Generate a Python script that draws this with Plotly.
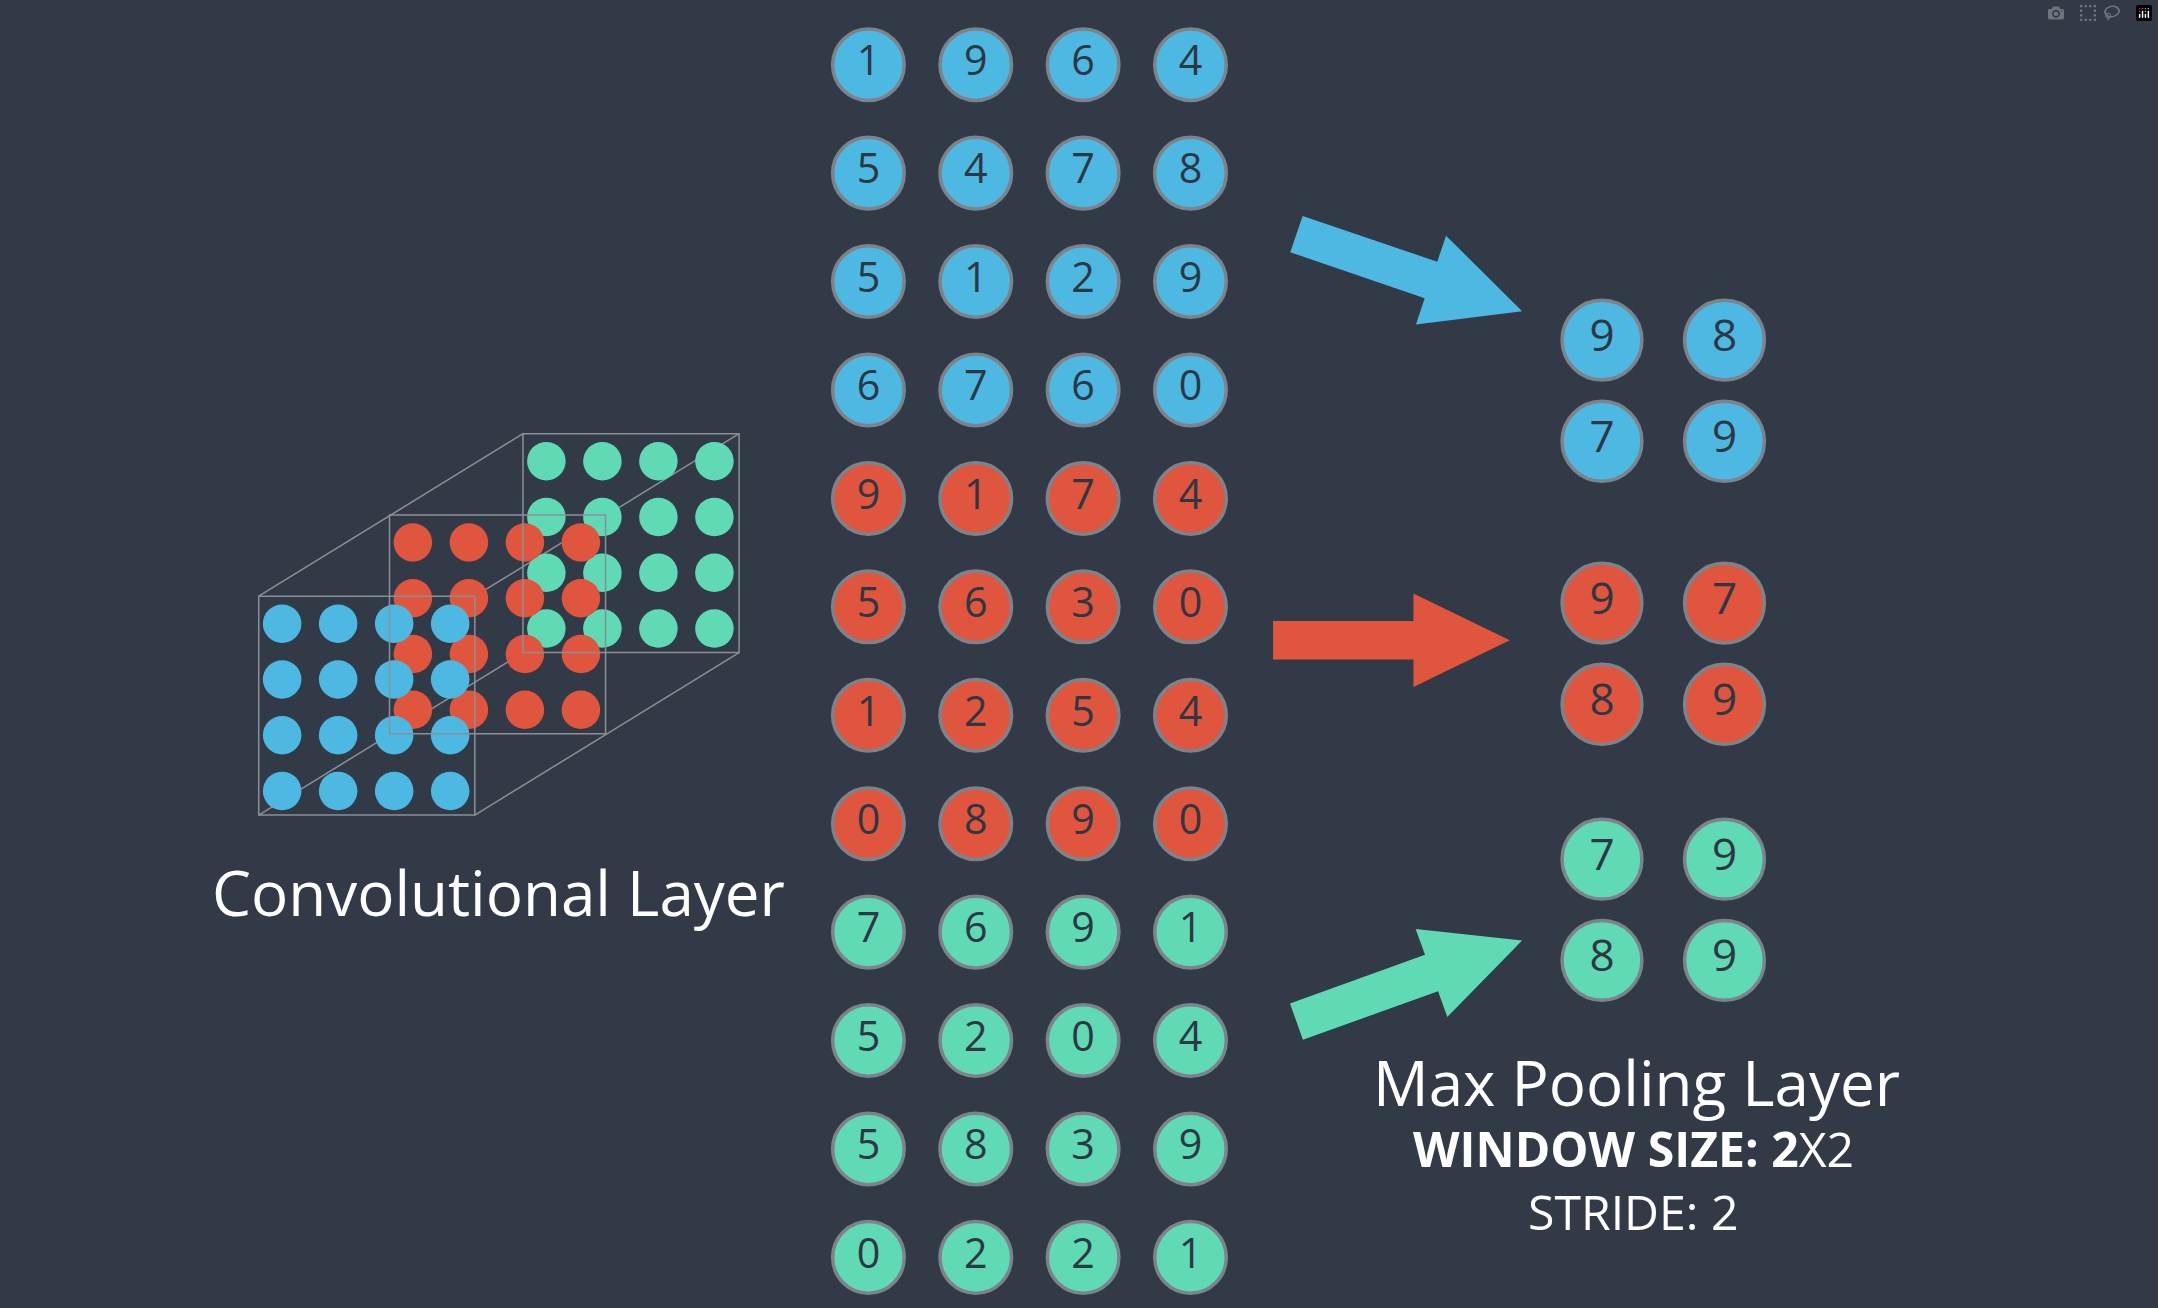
import math
import plotly.graph_objects as go

# picture coordinates are in 1568x950 reference units, scaled on the page
S = 2158 / 1568

BG = '#323a47'
BLUE = '#4db9e2'
RED = '#e0553e'
GREEN = '#5fdab5'
RING = '#7d838a'
DIGIT = '#2e3744'

# feature maps (4 columns x 4 rows each)
blue_map = [[1, 9, 6, 4], [5, 4, 7, 8], [5, 1, 2, 9], [6, 7, 6, 0]]
red_map = [[9, 1, 7, 4], [5, 6, 3, 0], [1, 2, 5, 4], [0, 8, 9, 0]]
green_map = [[7, 6, 9, 1], [5, 2, 0, 4], [5, 8, 3, 9], [0, 2, 2, 1]]

# pooled outputs (2x2 each)
blue_pool = [[9, 8], [7, 9]]
red_pool = [[9, 7], [8, 9]]
green_pool = [[7, 9], [8, 9]]

fig = go.Figure()

# ---- left cube of dots ----
cube_layers = [(GREEN, 192, -118), (RED, 95, -59), (BLUE, 0, 0)]
bx0, by0, bx1, by1 = 188, 433, 345, 592
line_style = dict(color='#8a9096', width=1.5)
for cx, cy in [(bx0, by0), (bx1, by0), (bx1, by1), (bx0, by1)]:
    fig.add_shape(type='line', x0=cx, y0=cy, x1=cx + 192, y1=cy - 118, line=line_style, layer='below')
for color, dx, dy in cube_layers:
    xs, ys = [], []
    for r in range(4):
        for c in range(4):
            xs.append(205 + dx + c * 40.7)
            ys.append(453 + dy + r * 40.5)
    fig.add_trace(go.Scatter(x=xs, y=ys, mode='markers',
                             marker=dict(size=28 * S, color=color, line=dict(width=0)),
                             hoverinfo='skip'))
    fig.add_shape(type='rect', x0=bx0 + dx, y0=by0 + dy, x1=bx1 + dx, y1=by1 + dy,
                  line=line_style, layer='above')

# ---- middle column of numbers ----
col_x = [631, 709, 787, 865]
for k, (mp, color) in enumerate([(blue_map, BLUE), (red_map, RED), (green_map, GREEN)]):
    xs, ys, txt = [], [], []
    for r, row in enumerate(mp):
        for c, v in enumerate(row):
            xs.append(col_x[c])
            ys.append(47 + 78.75 * (k * 4 + r))
            txt.append(str(v))
    fig.add_trace(go.Scatter(x=xs, y=ys, mode='markers+text', text=txt,
                             textposition='middle center',
                             textfont=dict(family='Open Sans', size=30 * S, color=DIGIT),
                             marker=dict(size=52 * S, color=color, line=dict(width=3.5, color=RING)),
                             hoverinfo='skip'))

# ---- pooled outputs ----
pool_y = [247, 438, 624]
for k, (pl, color) in enumerate([(blue_pool, BLUE), (red_pool, RED), (green_pool, GREEN)]):
    xs, ys, txt = [], [], []
    for r, row in enumerate(pl):
        for c, v in enumerate(row):
            xs.append(1164 + c * 89)
            ys.append(pool_y[k] + r * 73.5)
            txt.append(str(v))
    fig.add_trace(go.Scatter(x=xs, y=ys, mode='markers+text', text=txt,
                             textposition='middle center',
                             textfont=dict(family='Open Sans', size=32 * S, color=DIGIT),
                             marker=dict(size=58 * S, color=color, line=dict(width=3.5, color=RING)),
                             hoverinfo='skip'))


# ---- arrows ----
def arrow_path(x0, y0, x1, y1, shaft=14, head_w=34, head_l=70):
    L = math.hypot(x1 - x0, y1 - y0)
    ux, uy = (x1 - x0) / L, (y1 - y0) / L
    px, py = -uy, ux
    bx, by = x1 - ux * head_l, y1 - uy * head_l
    pts = [(x0 + px * shaft, y0 + py * shaft), (bx + px * shaft, by + py * shaft),
           (bx + px * head_w, by + py * head_w), (x1, y1),
           (bx - px * head_w, by - py * head_w), (bx - px * shaft, by - py * shaft),
           (x0 - px * shaft, y0 - py * shaft)]
    return 'M ' + ' L '.join(f'{x:.1f},{y:.1f}' for x, y in pts) + ' Z'


for (x0, y0, x1, y1), color in [((942, 170, 1106, 226), BLUE),
                                ((925, 465, 1097, 465), RED),
                                ((942, 742, 1106, 683), GREEN)]:
    fig.add_shape(type='path', path=arrow_path(x0, y0, x1, y1), fillcolor=color,
                  line=dict(width=0))

# ---- labels ----
fig.add_annotation(x=362, y=648, text='Convolutional Layer', showarrow=False,
                   font=dict(family='Open Sans', size=45 * S, color='white'))
fig.add_annotation(x=1189, y=786, text='Max Pooling Layer', showarrow=False,
                   font=dict(family='Open Sans', size=45 * S, color='white'))
fig.add_annotation(x=1187, y=834, text='<b>WINDOW SIZE: 2</b>X2', showarrow=False,
                   font=dict(family='Open Sans', size=35 * S, color='white'))
fig.add_annotation(x=1187, y=880, text='STRIDE: 2', showarrow=False,
                   font=dict(family='Open Sans', size=35 * S, color='white'))

fig.update_layout(
    width=2158, height=1308,
    margin=dict(l=0, r=0, t=0, b=0),
    paper_bgcolor=BG, plot_bgcolor=BG,
    showlegend=False,
    xaxis=dict(range=[0, 1568], visible=False, fixedrange=True),
    yaxis=dict(range=[950, 0], visible=False, fixedrange=True),
)

fig.write_html('out.html',
               post_script="document.body.style.margin='0';document.body.style.background='#323a47';")
